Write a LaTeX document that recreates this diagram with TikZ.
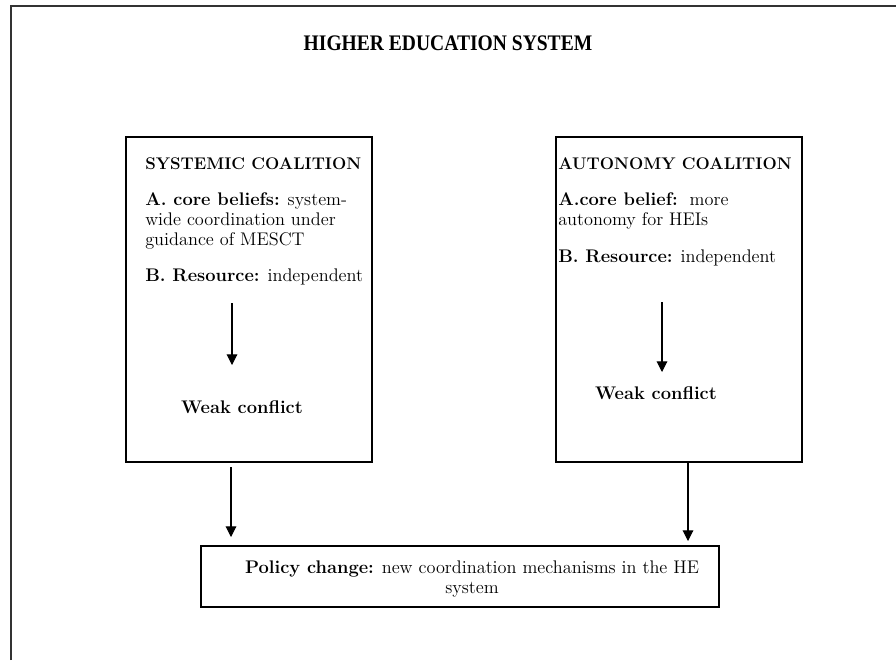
\documentclass[tikz,border=0pt]{standalone}
\usepackage{fontspec}
\newfontfamily\titlefont[FakeStretch=0.88]{Liberation Serif}
\usetikzlibrary{arrows.meta,positioning}
\tikzset{
	box/.style={draw=black, line width=0.85pt, inner sep=0pt},
	txt/.style={inner sep=0pt, align=left, font=\fontsize{13}{14.2}\selectfont},
	head/.style={inner sep=0pt, font=\fontsize{12}{14}\selectfont\bfseries},
	weak/.style={inner sep=0pt, font=\fontsize{13}{14}\selectfont\bfseries},
	flow/.style={-{Triangle[width=7.5pt,length=7.5pt]}, line width=0.75pt, black}
}

\begin{document}
\begin{tikzpicture}[x=0.025cm, y=-0.025cm]
	\useasboundingbox (0,0) rectangle (896,660);
	% outer frame, only top and left edges show
	\draw [line width=1.4pt, black!80] (11,660) -- (11,6) -- (896,6);
	\node [inner sep=0pt, font=\titlefont\fontsize{15.8}{18}\selectfont\bfseries] (title) at (448,43) {HIGHER EDUCATION SYSTEM};

	% the two coalitions
	\node [box, minimum width=6.15cm, minimum height=8.125cm] (sysbox) at (249,299.5) {};
	\node [box, minimum width=6.15cm, minimum height=8.125cm] (autbox) at (679,299.5) {};

	\node [head, anchor=base west] (sysname) at (145,169) {SYSTEMIC COALITION};
	\node [txt, anchor=north west] (sysbelief) at (145,192) {\textbf{A. core beliefs:} system-\\wide coordination under\\guidance of MESCT};
	\node [txt, anchor=base west] (sysres) at (145,281) {\textbf{B. Resource:} independent};
	\node [weak] (sysweak) at (242,407) {Weak conflict};

	\node [head, anchor=base west] (autname) at (558,169) {AUTONOMY COALITION};
	\node [txt, anchor=north west] (autbelief) at (558,192) {\textbf{A.core belief:}\ \ more\\autonomy for HEIs};
	\node [txt, anchor=base west] (autres) at (558,262) {\textbf{B. Resource:} independent};
	\node [weak] (autweak) at (656,393) {Weak conflict};

	% outcome
	\node [box, minimum width=12.95cm, minimum height=1.525cm] (policy) at (460,576.5) {};
	\node [txt, align=center] (policytxt) at (472,579) {\textbf{Policy change:} new coordination mechanisms in the HE\\system};

	\coordinate (sysfrom) at (232,303);
	\coordinate (systo) at (232,365);
	\coordinate (autfrom) at (662,302);
	\coordinate (autto) at (662,372);
	\coordinate (sysout) at (231,467);
	\coordinate (sysin) at (231,537);
	\coordinate (autout) at (688,462);
	\coordinate (autin) at (688,541);

	\draw [flow] (sysfrom) -- (systo);
	\draw [flow] (autfrom) -- (autto);
	\draw [flow] (sysout) -- (sysin);
	\draw [flow] (autout) -- (autin);
\end{tikzpicture}
\end{document}
